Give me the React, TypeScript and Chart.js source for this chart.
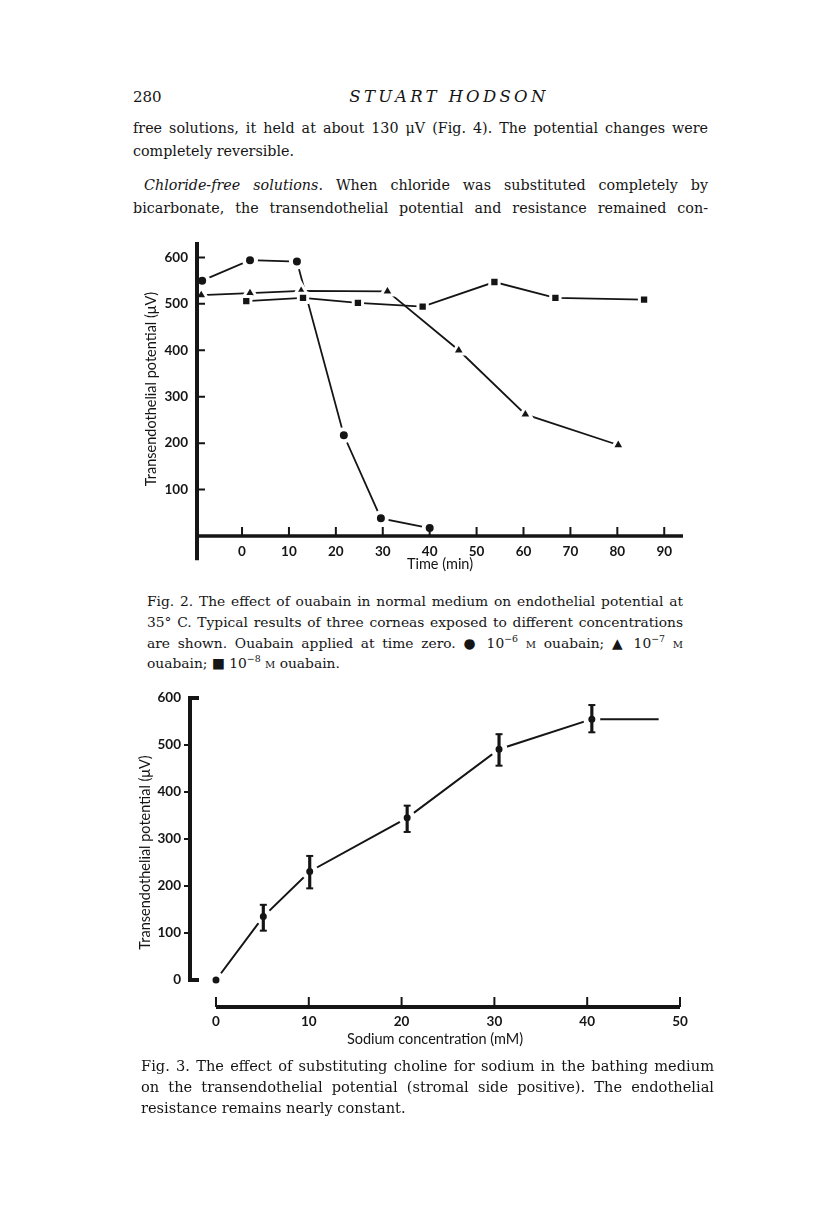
import React, { useEffect, useRef } from 'react';
import { Chart, registerables } from 'chart.js';

Chart.register(...registerables);

// ---------- Fig. 2 data (time in min, potential in µV) ----------
const FIG2_TIME_1E6 = [-8.5, 1.7, 11.7, 21.7, 29.6, 40.0];
const FIG2_POT_1E6 = [550, 594, 591, 217, 38, 17];
const FIG2_TIME_1E7 = [-8.7, 1.7, 12.6, 31.0, 46.2, 60.4, 80.2];
const FIG2_POT_1E7 = [519, 523, 528, 527, 400, 262, 196];
const FIG2_TIME_1E8 = [0.9, 13.0, 24.7, 38.5, 53.8, 66.8, 85.7];
const FIG2_POT_1E8 = [506, 513, 502, 494, 547, 513, 509];
const FIG2_X_TICKS = [0, 10, 20, 30, 40, 50, 60, 70, 80, 90];
const FIG2_Y_TICKS = [100, 200, 300, 400, 500, 600];

// ---------- Fig. 3 data (sodium mM, potential µV, error bar ends) ----------
const FIG3_SODIUM = [0, 5.1, 10.1, 20.6, 30.5, 40.5];
const FIG3_POT = [0, 135, 231, 345, 491, 555];
const FIG3_ERR_LOW = [null, 105, 195, 315, 456, 527];
const FIG3_ERR_HIGH = [null, 160, 264, 371, 523, 585];
const FIG3_PLATEAU_X = [40.5, 47.7];
const FIG3_PLATEAU_Y = [555, 555];
const FIG3_X_TICKS = [0, 10, 20, 30, 40, 50];
const FIG3_Y_TICKS = [0, 100, 200, 300, 400, 500, 600];

const INK = '#151515';
const SANS = 'Lato, "Open Sans", sans-serif';
const SERIF = '"DejaVu Serif", serif';

const xy = (xs: number[], ys: (number | null)[]) => xs.map((x, i) => ({ x, y: ys[i] as number }));
const fixedTicks = (values: number[]) => (scale: any) => {
  scale.ticks = values.map((v) => ({ value: v }));
};
const tickFont = { family: SANS, size: 13.5, weight: 'bold' as const };
const titleFont = { family: SANS, size: 14.5 };

function Fig2() {
  const ref = useRef<HTMLCanvasElement | null>(null);
  useEffect(() => {
    const axes = {
      id: 'fig2Axes',
      afterDatasetsDraw(chart: any) {
        const { ctx, chartArea } = chart;
        const x = chart.scales.x;
        const y = chart.scales.y;
        const ax = chartArea.left;
        const y0 = y.getPixelForValue(0);
        ctx.save();
        ctx.strokeStyle = INK;
        ctx.lineCap = 'butt';
        ctx.lineWidth = 4;
        ctx.beginPath();
        ctx.moveTo(ax, chartArea.top);
        ctx.lineTo(ax, y.getPixelForValue(-52));
        ctx.stroke();
        ctx.lineWidth = 3.5;
        ctx.beginPath();
        ctx.moveTo(ax, y0);
        ctx.lineTo(chartArea.right, y0);
        ctx.stroke();
        ctx.lineWidth = 2;
        ctx.beginPath();
        FIG2_Y_TICKS.forEach((v) => {
          const p = y.getPixelForValue(v);
          ctx.moveTo(ax, p);
          ctx.lineTo(ax + 8, p);
        });
        FIG2_X_TICKS.forEach((v) => {
          const p = x.getPixelForValue(v);
          ctx.moveTo(p, y0);
          ctx.lineTo(p, y0 - 9);
        });
        ctx.stroke();
        ctx.restore();
      },
    };
    const series = (data: any[], style: string, radius: number, ring: number) => ({
      data,
      borderColor: INK,
      borderWidth: 1.8,
      pointStyle: style,
      pointRadius: radius,
      pointBorderWidth: ring,
      pointBackgroundColor: INK,
      pointBorderColor: '#ffffff',
      clip: false as const,
    });
    const chart = new Chart(ref.current as HTMLCanvasElement, {
      type: 'line',
      data: {
        datasets: [
          series(xy(FIG2_TIME_1E8, FIG2_POT_1E8), 'rect', 6.6, 3),
          series(xy(FIG2_TIME_1E7, FIG2_POT_1E7), 'triangle', 7.4, 3),
          series(xy(FIG2_TIME_1E6, FIG2_POT_1E6), 'circle', 6, 4),
        ] as any,
      },
      options: {
        animation: false,
        responsive: false,
        devicePixelRatio: 1,
        events: [],
        layout: { padding: { top: 12, right: 17, left: 0, bottom: 0 } },
        plugins: { legend: { display: false }, tooltip: { enabled: false } },
        scales: {
          x: {
            type: 'linear',
            min: -9.6,
            max: 94,
            grid: { display: false, drawTicks: false },
            border: { display: false },
            afterBuildTicks: fixedTicks(FIG2_X_TICKS),
            afterFit: (s: any) => { s.height = 49; },
            ticks: { color: INK, font: tickFont, padding: 8, maxRotation: 0, callback: (v: any) => String(v) },
            title: { display: true, text: 'Time (min)', color: INK, font: titleFont, padding: { top: 0, bottom: 12 } },
          },
          y: {
            type: 'linear',
            min: 0,
            max: 633,
            grid: { display: false, drawTicks: false },
            border: { display: false },
            afterBuildTicks: fixedTicks(FIG2_Y_TICKS),
            afterFit: (s: any) => { s.width = 77; },
            ticks: { color: INK, font: tickFont, padding: 9, callback: (v: any) => String(v) },
            title: { display: true, text: 'Transendothelial potential (\u03bcV)', color: INK, font: titleFont, padding: { top: 23, bottom: 0 } },
          },
        },
      } as any,
      plugins: [axes],
    });
    return () => chart.destroy();
  }, []);
  return (
    <canvas
      ref={ref}
      width={580}
      height={360}
      style={{ position: 'absolute', left: 120, top: 225, width: 580, height: 360 }}
    />
  );
}

function Fig3() {
  const ref = useRef<HTMLCanvasElement | null>(null);
  useEffect(() => {
    const axes = {
      id: 'fig3Axes',
      afterDatasetsDraw(chart: any) {
        const { ctx, chartArea } = chart;
        const x = chart.scales.x;
        const y = chart.scales.y;
        const ax = chartArea.left;
        const yTop = y.getPixelForValue(600);
        const yZero = y.getPixelForValue(0);
        const xb = chartArea.bottom;
        ctx.save();
        ctx.strokeStyle = INK;
        ctx.lineCap = 'butt';
        ctx.lineJoin = 'miter';
        ctx.lineWidth = 4;
        ctx.beginPath();
        ctx.moveTo(ax + 9, yTop);
        ctx.lineTo(ax, yTop);
        ctx.lineTo(ax, yZero);
        ctx.lineTo(ax + 9, yZero);
        ctx.stroke();
        ctx.lineWidth = 4;
        ctx.beginPath();
        ctx.moveTo(x.getPixelForValue(0), xb);
        ctx.lineTo(x.getPixelForValue(50), xb);
        ctx.stroke();
        ctx.lineWidth = 2;
        ctx.beginPath();
        FIG3_Y_TICKS.filter((v) => v > 0 && v < 600).forEach((v) => {
          const p = y.getPixelForValue(v);
          ctx.moveTo(ax, p);
          ctx.lineTo(ax - 6, p);
        });
        FIG3_X_TICKS.forEach((v) => {
          const p = x.getPixelForValue(v);
          ctx.moveTo(p, xb);
          ctx.lineTo(p, xb - 10);
        });
        ctx.stroke();
        ctx.restore();
      },
    };
    const errBars = FIG3_SODIUM.map((x, i) =>
      FIG3_ERR_LOW[i] == null ? null : { x, y: [FIG3_ERR_LOW[i], FIG3_ERR_HIGH[i]] }
    ).filter(Boolean);
    const caps: { x: number; y: number }[] = [];
    FIG3_SODIUM.forEach((x, i) => {
      if (FIG3_ERR_LOW[i] != null) {
        caps.push({ x, y: FIG3_ERR_LOW[i] as number });
        caps.push({ x, y: FIG3_ERR_HIGH[i] as number });
      }
    });
    const chart = new Chart(ref.current as HTMLCanvasElement, {
      type: 'line',
      data: {
        datasets: [
          {
            type: 'line',
            order: 4,
            data: xy(FIG3_PLATEAU_X, FIG3_PLATEAU_Y),
            borderColor: INK,
            borderWidth: 2,
            pointRadius: 0,
            clip: false,
          },
          {
            type: 'line',
            order: 3,
            data: xy(FIG3_SODIUM, FIG3_POT),
            borderColor: INK,
            borderWidth: 2,
            pointStyle: 'circle',
            pointRadius: 6,
            pointBorderWidth: 5,
            pointBackgroundColor: INK,
            pointBorderColor: '#ffffff',
            clip: false,
          },
          {
            type: 'bar',
            order: 2,
            data: errBars,
            backgroundColor: INK,
            borderWidth: 0,
            barThickness: 2.5,
            grouped: false,
          },
          {
            type: 'line',
            order: 1,
            data: caps,
            showLine: false,
            pointStyle: 'line',
            pointRadius: 3.5,
            pointBorderWidth: 2,
            pointBorderColor: INK,
            borderColor: INK,
          },
        ] as any,
      },
      options: {
        animation: false,
        responsive: false,
        devicePixelRatio: 1,
        events: [],
        layout: { padding: { top: 18, right: 20, left: 0, bottom: 0 } },
        plugins: { legend: { display: false }, tooltip: { enabled: false } },
        scales: {
          x: {
            type: 'linear',
            min: -2.8,
            max: 50,
            offset: false,
            grid: { display: false, drawTicks: false },
            border: { display: false },
            afterBuildTicks: fixedTicks(FIG3_X_TICKS),
            afterFit: (s: any) => { s.height = 53; },
            ticks: { color: INK, font: tickFont, padding: 7, maxRotation: 0, callback: (v: any) => String(v) },
            title: { display: true, text: 'Sodium concentration (mM)', color: INK, font: titleFont, padding: { top: 0, bottom: 12 } },
          },
          y: {
            type: 'linear',
            min: -57.4,
            max: 600,
            grid: { display: false, drawTicks: false },
            border: { display: false },
            afterBuildTicks: fixedTicks(FIG3_Y_TICKS),
            afterFit: (s: any) => { s.width = 70; },
            ticks: { color: INK, font: tickFont, padding: 9, callback: (v: any) => String(v) },
            title: { display: true, text: 'Transendothelial potential (\u03bcV)', color: INK, font: titleFont, padding: { top: 17, bottom: 0 } },
          },
        },
      } as any,
      plugins: [axes],
    });
    return () => chart.destroy();
  }, []);
  return (
    <canvas
      ref={ref}
      width={580}
      height={380}
      style={{ position: 'absolute', left: 120, top: 680, width: 580, height: 380 }}
    />
  );
}

function Line(props: {
  y: number;
  left: number;
  right: number;
  size: number;
  justify?: boolean;
  children: React.ReactNode;
  style?: React.CSSProperties;
}) {
  const { y, left, right, size, justify = true, children, style } = props;
  return (
    <div
      style={{
        position: 'absolute',
        top: y - 11,
        left,
        width: right - left,
        height: 22,
        lineHeight: '22px',
        fontFamily: SERIF,
        fontSize: size,
        color: INK,
        textAlign: justify ? 'justify' : 'left',
        textAlignLast: justify ? 'justify' : 'left',
        ...style,
      }}
    >
      {children}
    </div>
  );
}

const sc = (t: string) => <span style={{ fontVariant: 'small-caps' }}>{t}</span>;
const sup = (t: string) => (
  <span style={{ fontSize: '0.68em', verticalAlign: 'super', lineHeight: 0 }}>{t}</span>
);

export default function App() {
  const BODY = 14.3;
  const CAP = 13.8;
  const CAP3 = 14.6;
  return (
    <div
      style={{
        position: 'absolute',
        left: 0,
        top: 0,
        width: 816,
        height: 1221,
        overflow: 'hidden',
        background: '#ffffff',
      }}
    >
      <Line y={97} left={133} right={200} size={15} justify={false}>280</Line>
      <div
        style={{
          position: 'absolute',
          top: 86,
          left: 250,
          width: 398,
          height: 22,
          lineHeight: '22px',
          textAlign: 'center',
          fontFamily: SERIF,
          fontStyle: 'italic',
          fontSize: 16.5,
          letterSpacing: 3.3,
          color: INK,
        }}
      >
        STUART HODSON
      </div>
      <Line y={128} left={133} right={708} size={BODY}>
        free solutions, it held at about 130 {'\u03bc'}V (Fig. 4). The potential changes were
      </Line>
      <Line y={151} left={133} right={708} size={BODY} justify={false}>
        completely reversible.
      </Line>
      <Line y={185} left={144} right={708} size={BODY}>
        <i>Chloride-free solutions</i>. When chloride was substituted completely by
      </Line>
      <Line y={208} left={133} right={708} size={BODY}>
        bicarbonate, the transendothelial potential and resistance remained con-
      </Line>

      <Fig2 />

      <Line y={601} left={147} right={683} size={CAP}>
        Fig. 2. The effect of ouabain in normal medium on endothelial potential at
      </Line>
      <Line y={622} left={147} right={683} size={CAP}>
        35{'\u00b0'} C. Typical results of three corneas exposed to different concentrations
      </Line>
      <Line y={643} left={147} right={683} size={CAP}>
        are shown. Ouabain applied at time zero. {'\u25cf'} 10{sup('\u22126')} {sc('m')} ouabain; {'\u25b2'} 10{sup('\u22127')} {sc('m')}
      </Line>
      <Line y={663} left={147} right={683} size={CAP} justify={false}>
        ouabain; {'\u25a0'} 10{sup('\u22128')} {sc('m')} ouabain.
      </Line>

      <Fig3 />

      <Line y={1066} left={141} right={714} size={CAP3}>
        Fig. 3. The effect of substituting choline for sodium in the bathing medium
      </Line>
      <Line y={1087} left={141} right={714} size={CAP3}>
        on the transendothelial potential (stromal side positive). The endothelial
      </Line>
      <Line y={1108} left={141} right={714} size={CAP3} justify={false}>
        resistance remains nearly constant.
      </Line>
    </div>
  );
}
